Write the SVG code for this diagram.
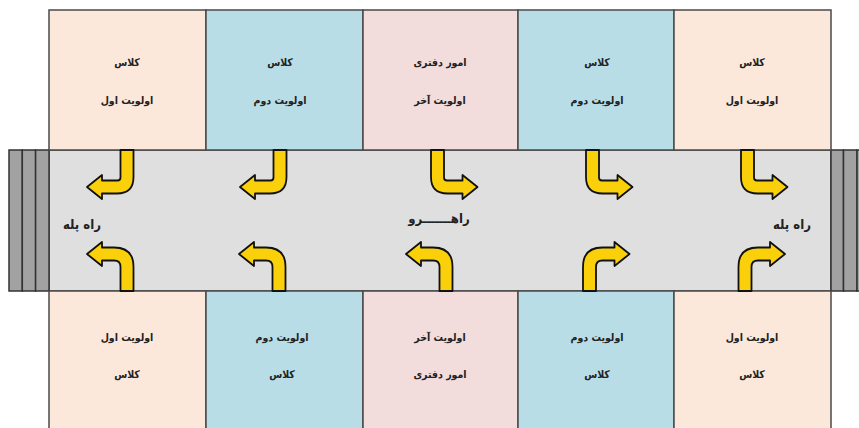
<svg xmlns="http://www.w3.org/2000/svg" width="859" height="428" viewBox="0 0 859 428">
<defs>
<style>
.room{stroke:#4a4a4a;stroke-width:1.5}
.peach{fill:#fce8db}
.blue{fill:#b8dde7}
.pink{fill:#f2dcdc}
.hall{fill:#dfdfdf;stroke:#4a4a4a;stroke-width:1.5}
.stair{fill:#a2a2a2;stroke:#333;stroke-width:1.5}
.arrow{fill:#f9d00a;stroke:#111;stroke-width:1.8;stroke-linejoin:round}
.t{font-family:"DejaVu Sans Condensed","DejaVu Sans",sans-serif;font-weight:bold;font-size:10.5px;fill:#222;text-anchor:middle}
.big{font-size:13px}
</style>
<path id="topL" d="M-6.5,0 L6.5,0 L6.5,27 Q6.5,43.5 -10,43.5 L-25,43.5 L-25,49 L-40,37 L-25,25 L-25,30.5 L-9.5,30.5 Q-6.5,30.5 -6.5,27.5 Z"/>
<path id="botL" d="M-6.5,0 L6.5,0 L6.5,-24 Q6.5,-43.5 -13,-43.5 L-25,-43.5 L-25,-49 L-40,-37 L-25,-25 L-25,-30.5 L-13,-30.5 Q-6.5,-30.5 -6.5,-24 Z"/>
</defs>
<rect width="859" height="428" fill="#fff"/>

<g id="hallway">
<rect class="hall" x="49" y="150" width="782" height="141"/>
<text class="t big" x="439" y="223">راهـــــــرو</text>
</g>

<g id="stairs-left">
<rect class="stair" x="9" y="150" width="13.3" height="141"/>
<rect class="stair" x="22.3" y="150" width="13.3" height="141"/>
<rect class="stair" x="35.6" y="150" width="13.4" height="141"/>
<text class="t big" x="82" y="229">راه پله</text>
</g>
<g id="stairs-right">
<rect class="stair" x="831" y="150" width="12.5" height="141"/>
<rect class="stair" x="843.5" y="150" width="13.5" height="141"/>
<rect class="stair" x="857" y="150" width="10" height="141"/>
<text class="t big" x="792" y="229">راه پله</text>
</g>

<g id="room-top-1"><rect class="room peach" x="49" y="10" width="157" height="140"/><text class="t" x="127" y="66">کلاس</text><text class="t" x="127" y="104">اولویت اول</text></g>
<g id="room-top-2"><rect class="room blue" x="206" y="10" width="157" height="140"/><text class="t" x="280" y="66">کلاس</text><text class="t" x="280" y="104">اولویت دوم</text></g>
<g id="room-top-3"><rect class="room pink" x="363" y="10" width="155" height="140"/><text class="t" x="440" y="66">امور دفتری</text><text class="t" x="440" y="104">اولویت آخر</text></g>
<g id="room-top-4"><rect class="room blue" x="518" y="10" width="156" height="140"/><text class="t" x="597" y="66">کلاس</text><text class="t" x="597" y="104">اولویت دوم</text></g>
<g id="room-top-5"><rect class="room peach" x="674" y="10" width="157" height="140"/><text class="t" x="752" y="66">کلاس</text><text class="t" x="752" y="104">اولویت اول</text></g>

<g id="room-bottom-1"><rect class="room peach" x="49" y="291" width="157" height="145"/><text class="t" x="127" y="341">اولویت اول</text><text class="t" x="127" y="378">کلاس</text></g>
<g id="room-bottom-2"><rect class="room blue" x="206" y="291" width="157" height="145"/><text class="t" x="282" y="341">اولویت دوم</text><text class="t" x="282" y="378">کلاس</text></g>
<g id="room-bottom-3"><rect class="room pink" x="363" y="291" width="155" height="145"/><text class="t" x="440" y="341">اولویت آخر</text><text class="t" x="440" y="378">امور دفتری</text></g>
<g id="room-bottom-4"><rect class="room blue" x="518" y="291" width="156" height="145"/><text class="t" x="597" y="341">اولویت دوم</text><text class="t" x="597" y="378">کلاس</text></g>
<g id="room-bottom-5"><rect class="room peach" x="674" y="291" width="157" height="145"/><text class="t" x="752" y="341">اولویت اول</text><text class="t" x="752" y="378">کلاس</text></g>

<g id="connectors">
<use href="#topL" class="arrow" transform="translate(127,150)"/>
<use href="#topL" class="arrow" transform="translate(280,150)"/>
<use href="#topL" class="arrow" transform="translate(437.5,150) scale(-1,1)"/>
<use href="#topL" class="arrow" transform="translate(592.5,150) scale(-1,1)"/>
<use href="#topL" class="arrow" transform="translate(747.5,150) scale(-1,1)"/>
<use href="#botL" class="arrow" transform="translate(127,291)"/>
<use href="#botL" class="arrow" transform="translate(279,291)"/>
<use href="#botL" class="arrow" transform="translate(446,291)"/>
<use href="#botL" class="arrow" transform="translate(589.5,291) scale(-1,1)"/>
<use href="#botL" class="arrow" transform="translate(745,291) scale(-1,1)"/>
</g>
</svg>
